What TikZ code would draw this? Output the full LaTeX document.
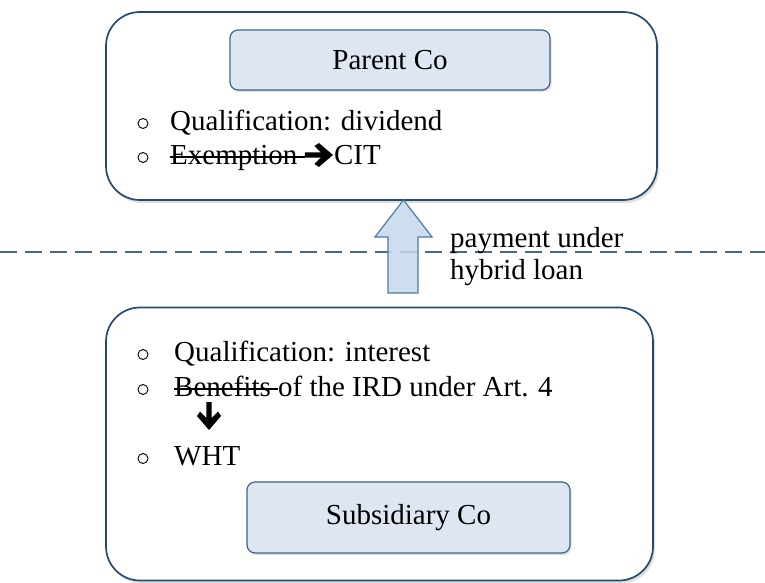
\documentclass[tikz,border=0pt]{standalone}
\usepackage{fontspec}
\setmainfont{Liberation Serif}
\usetikzlibrary{shadows, positioning}
\definecolor{boxblue}{RGB}{38,74,110}
\definecolor{firmblue}{RGB}{61,99,137}
\definecolor{firmfill}{RGB}{222,231,241}
\definecolor{arrowfill}{RGB}{197,216,236}
\definecolor{arrowline}{RGB}{77,122,166}
\definecolor{dashblue}{RGB}{70,104,142}
\newcommand\crossout[1]{\setbox0\hbox{#1}\rlap{\rule[0.22em]{\wd0}{1.4pt}}\box0}
\tikzset{outerbox/.style={draw=boxblue, fill=white, line width=1.7pt, rounded corners=34pt, drop shadow={opacity=0.25, shadow xshift=2pt, shadow yshift=-3pt}},firmbox/.style={draw=firmblue, fill=firmfill, line width=1.2pt, rounded corners=8pt, drop shadow={opacity=0.25, shadow xshift=1.5pt, shadow yshift=-2pt}}}

\begin{document}
\begin{tikzpicture}[
        x=1pt, y=-1pt,
        every node/.style={font=\fontsize{29}{34}\selectfont, inner sep=0pt},
        itemtext/.style={anchor=base west},
        bullet/.style={circle, draw=black, line width=0.9pt, minimum size=10pt},
        flowarrow/.style={draw=arrowline, fill=arrowfill, fill opacity=0.85, line width=1.2pt, line join=miter},
        dashline/.style={draw=dashblue, line width=2.1pt, dash pattern=on 17pt off 8pt},
        heavyarrow/.pic={\fill (0,-2.6) -- (16,-2.6) -- (9.5,-9) -- (14,-12) -- (28,0) -- (14,12) -- (9.5,9) -- (16,2.6) -- (0,2.6) -- cycle;}
    ]
        \useasboundingbox (0,0) rectangle (765,583);
        % Dashed border
        \draw[dashline] (0,252) -- (765,252);
        % Companies
        \node[outerbox, minimum width=551pt, minimum height=188pt] (parent) at (381.5,106) {};
        \node[firmbox, minimum width=320pt, minimum height=60pt] (parentco) at (390,60) {Parent Co};
        \node[outerbox, minimum width=547pt, minimum height=273pt] (sub) at (379.5,444) {};
        \node[firmbox, minimum width=323pt, minimum height=71pt] (subco) at (408.5,517.5) {Subsidiary Co};
        % Bullets
        \foreach \y in {130,164,361,396,465} {
            \node[bullet] (bul\y) at (143,\y-6.5) {};
        }
        % Items
        \node[itemtext] (qualdiv) at (170,130) {Qualification: dividend};
        \node[itemtext] (exempt) at (170,164) {\crossout{Exemption }};
        \pic at ([yshift=9pt]exempt.base east) {heavyarrow};
        \node[itemtext, base right=29pt of exempt] (cit) {CIT};
        \node[itemtext] (qualint) at (174,361) {Qualification: interest};
        \node[itemtext] (benefit) at (174,396) {\crossout{Benefits }of the IRD under Art. 4};
        \pic[rotate=-90] at (209,402) {heavyarrow};
        \node[itemtext] (wht) at (174,465) {WHT};
        % Payment
        \coordinate (tip) at (403.5,200);
        \draw[flowarrow] (tip) -- ++(28.5,37) -- ++(-14,0) -- ++(0,56) -- ++(-30,0) -- ++(0,-56) -- ++(-13,0) -- cycle;
        \node[itemtext] (pay) at (450,247) {payment under};
        \node[itemtext] (loan) at (450,279) {hybrid loan};
    \end{tikzpicture}
\end{document}
